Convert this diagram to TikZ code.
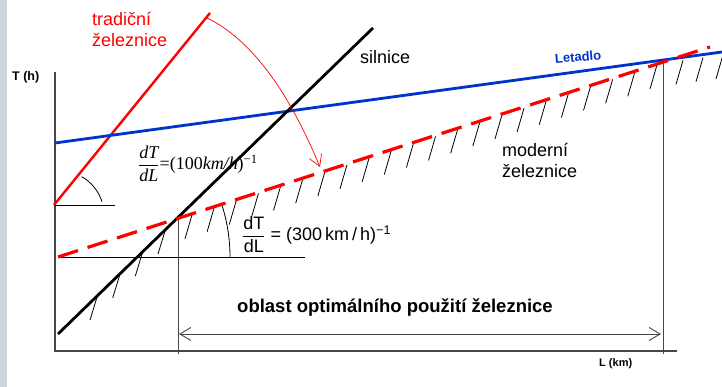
\documentclass[tikz,border=0pt]{standalone}
\usepackage{fontspec}
\usepackage{amsmath}
\setmainfont{Liberation Sans}
\newfontfamily\tms{Liberation Serif}
\usetikzlibrary{arrows.meta}
\definecolor{stripgray}{RGB}{208,212,222}
\definecolor{planeblue}{RGB}{0,51,204}
\definecolor{axisgray}{RGB}{70,70,70}
\begin{document}
\begin{tikzpicture}[x=1pt,y=1pt,
  axisline/.style={draw=axisgray,line width=1.1pt},
  thinline/.style={draw=axisgray,line width=0.9pt},
  thinblack/.style={draw=black,line width=0.8pt},
  hatchline/.style={draw=black,line width=0.8pt},
  bigtext/.style={font=\fontsize{18}{21}\selectfont,inner sep=0pt,anchor=base west},
  boldtext/.style={font=\bfseries\fontsize{18.5}{21}\selectfont,inner sep=0pt,anchor=base west},
  mybarb/.tip={Straight Barb[length=11pt,width=13pt]}
]
\useasboundingbox (0,0) rectangle (722,387);
\fill[stripgray] (0,0) rectangle (7,387);

% axes
\coordinate (Ttop) at (55,315);
\coordinate (O) at (55,36);
\coordinate (Lend) at (677,36);
\draw[axisline] (Ttop) -- (O) -- (Lend);

% key points
\coordinate (trS) at (54,182);
\coordinate (trE) at (210,374);
\coordinate (blS) at (55,244);
\coordinate (blE) at (722,335);
\coordinate (rdS) at (58,53);
\coordinate (rdE) at (373,359);
\coordinate (mdS) at (58,130);
\coordinate (mdE) at (710,340);
\coordinate (X1) at (178,169);
\coordinate (X1b) at (178,33);
\coordinate (X2) at (663,325);
\coordinate (X2b) at (663,33);
\coordinate (h1E) at (115,182);
\coordinate (h2E) at (305,130);
\coordinate (dimL) at (179,53);
\coordinate (dimR) at (661,53);
\coordinate (arS) at (207,369);
\coordinate (arE) at (320,220);

% thin helper lines
\draw[thinline] (X1) -- (X1b);
\draw[thinline] (X2) -- (X2b);
\draw[thinblack] (trS) -- (h1E);
\draw[thinblack] (mdS) -- (h2E);
\draw[thinblack] (81.7,210.3) arc[start angle=60.5,end angle=17.7,radius=44];
\draw[thinblack] (230,130) arc[start angle=0,end angle=17.6,radius=172];

% hatches
\foreach \x in {97,119.7,142.3,165} {
  \draw[hatchline] (\x,{53+0.9714*(\x-58)-1}) -- ++(-7,-23);
}
\foreach \i in {0,...,21} {
  \pgfmathsetmacro\hx{192+22.14*\i}
  \draw[hatchline] (\hx,{130+0.3221*(\hx-58)-1}) -- ++(-7,-24);
}
\foreach \x in {683,703,723} {
  \draw[hatchline] (\x,{244+0.1364*(\x-55)-3}) -- ++(-7,-24);
}

% main lines
\draw[red,line width=2.4pt] (trS) -- (trE);
\draw[planeblue,line width=2.8pt] (blS) -- (blE);
\draw[black,line width=2.8pt] (rdS) -- (rdE);
\draw[red,line width=3.2pt,dash pattern=on 21pt off 10pt] (mdS) -- (mdE);

% curved arrow
\draw[red,line width=0.7pt,-mybarb] (arS) .. controls (261,343) and (297,275) .. (arE);

% dimension arrow
\draw[thinline,mybarb-mybarb] (dimL) -- (dimR);

% texts
\node[bigtext,text=red] (trad1) at (92,361) {tradiční};
\node[bigtext,text=red] (trad2) at (92,340) {železnice};
\node[bigtext] (siln) at (360,323) {silnice};
\node[bigtext] (mod1) at (502,230) {moderní};
\node[bigtext] (mod2) at (502,209) {železnice};
\node[font=\bfseries\fontsize{13}{15}\selectfont,text=planeblue,rotate=5,inner sep=0pt] (let) at (578,330) {Letadlo};
\node[font=\bfseries\fontsize{12.5}{14}\selectfont,inner sep=0pt,anchor=base west] (Th) at (12,306) {T (h)};
\node[font=\bfseries\fontsize{11}{13}\selectfont,inner sep=0pt,anchor=base west] (Lkm) at (599,20) {L (km)};
\node[boldtext] (obl) at (237,74) {oblast optimálního použití železnice};

\node[inner sep=0pt,anchor=base west,font=\tms\fontsize{18}{21}\selectfont] (f1) at (138,217)
  {$\dfrac{\text{\itshape dT}}{\text{\itshape dL}}$=(100\textit{km/h})\textsuperscript{−1}};
\node[inner sep=0pt,anchor=base west,font=\fontsize{18}{21}\selectfont] (f2) at (242,146)
  {$\dfrac{\text{dT}}{\text{dL}}$ = (300\,km\,/\,h)\textsuperscript{−1}};
\end{tikzpicture}
\end{document}
